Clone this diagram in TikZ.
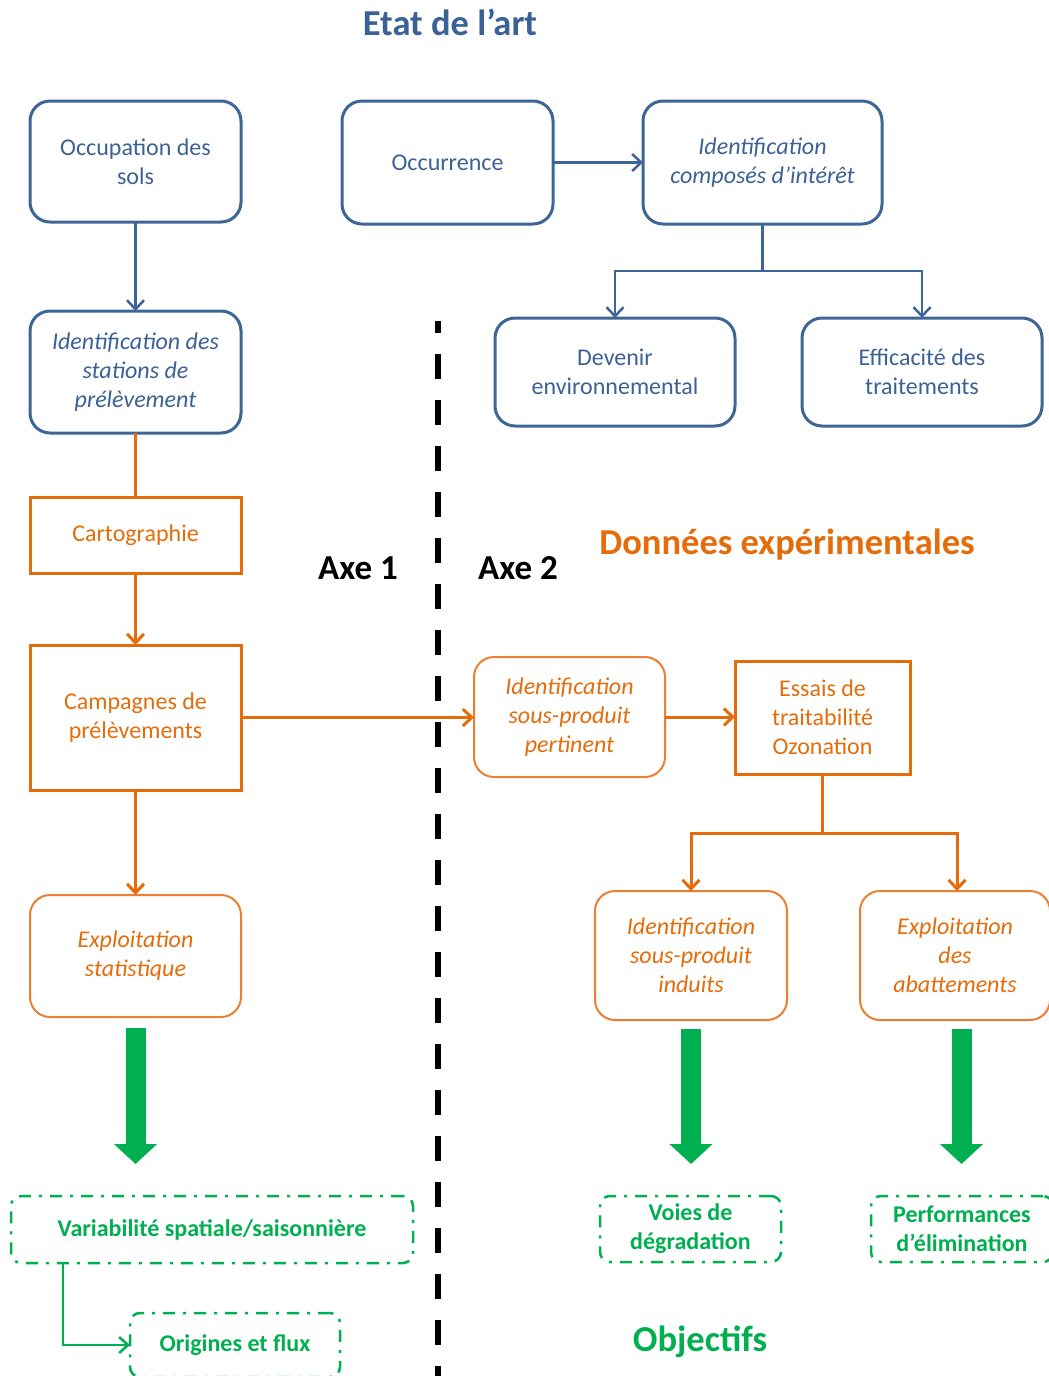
\documentclass[tikz,border=0pt]{standalone}
\usepackage{fontspec}
\setmainfont{Carlito}
\usetikzlibrary{arrows.meta}
\definecolor{bstroke}{HTML}{3D6596}
\definecolor{btext}{HTML}{3B6195}
\definecolor{ttext}{HTML}{3A6296}
\definecolor{ostroke}{HTML}{E46C0A}
\definecolor{olight}{HTML}{EE7F32}
\definecolor{gr}{HTML}{00B050}
\begin{document}
\begin{tikzpicture}[x=1pt,y=-1pt,
  base/.style={inner sep=0pt, outer sep=0pt, align=center, font=\fontsize{24}{29}\selectfont},
  bluebox/.style={base, draw=bstroke, line width=3pt, rounded corners=20pt, text=btext},
  blueit/.style={bluebox, font=\fontsize{24}{29}\selectfont\itshape},
  orect/.style={base, draw=ostroke, line width=3pt, text=ostroke},
  oround/.style={base, draw=olight, line width=2pt, rounded corners=20pt, text=ostroke, font=\fontsize{24}{29}\selectfont\itshape},
  gbox/.style={base, draw=gr, line width=2.5pt, rounded corners=10pt, dash pattern=on 12pt off 8pt on 3pt off 8pt, text=gr, font=\fontsize{24}{29}\selectfont\bfseries},
  heading/.style={inner sep=0pt, font=\fontsize{36.5}{42}\selectfont\bfseries},
  axehead/.style={inner sep=0pt, font=\fontsize{35}{42}\selectfont\bfseries},
  barrow/.style={draw=bstroke, line width=2.5pt, -{Straight Barb[length=9pt,width=17pt]}},
  oline/.style={draw=ostroke, line width=3pt},
  oarrow/.style={oline, -{Straight Barb[length=9pt,width=17pt]}},
  garrow/.style={draw=gr, line width=2.5pt, -{Straight Barb[length=9pt,width=16pt]}},
  bigarrow/.style={draw=gr, line width=20pt, -{Triangle[width=42pt,length=20pt]}}
]
\useasboundingbox (0,0) rectangle (1049,1376);

% headings
\node[heading, text=ttext] (title) at (450,22) {Etat de l’art};
\node[axehead, text=black] (axe1) at (358,568) {Axe 1};
\node[axehead, text=black] (axe2) at (518,568) {Axe 2};
\node[heading, text=ostroke] (donn) at (787,545) {Données expérimentales};
\node[heading, text=gr] (obj) at (700,1342) {Objectifs};

% separator
\draw[line width=5.5pt, dash pattern=on 25pt off 21pt, dash phase=13pt] (438,321) -- (438,1380);

% blue boxes
\node[bluebox, minimum width=211pt, minimum height=121pt] (occ) at (135.5,161.5) {Occupation des\\sols};
\node[bluebox, minimum width=211pt, minimum height=123pt] (occu) at (447.5,162.5) {Occurrence};
\node[blueit, minimum width=239pt, minimum height=123pt] (idc) at (762.5,162.5) {Identification\\composés d’intérêt};
\node[bluebox, minimum width=240pt, minimum height=108pt] (dev) at (615,372) {Devenir\\environnemental};
\node[bluebox, minimum width=240pt, minimum height=108pt] (eff) at (922,372) {Efficacité des\\traitements};
\node[blueit, minimum width=211pt, minimum height=122pt] (ids) at (135.5,372) {Identification des\\stations de\\prélèvement};

% orange boxes
\node[orect, minimum width=211pt, minimum height=76pt] (cart) at (135.5,535) {Cartographie};
\node[orect, minimum width=211pt, minimum height=145pt] (camp) at (135.5,717.5) {Campagnes de\\prélèvements};
\node[oround, minimum width=191pt, minimum height=120pt] (isp) at (569.5,717) {Identification\\sous-produit\\pertinent};
\node[orect, minimum width=175pt, minimum height=113pt] (ess) at (822.5,717.5) {Essais de\\traitabilité\\Ozonation};
\node[oround, minimum width=192pt, minimum height=129pt] (isi) at (691,955.5) {Identification\\sous-produit\\induits};
\node[oround, minimum width=190pt, minimum height=129pt] (eab) at (955,955.5) {Exploitation\\des\\abattements};
\node[oround, minimum width=211pt, minimum height=122pt] (exs) at (135.5,956) {Exploitation\\statistique};

% green boxes
\node[gbox, minimum width=402pt, minimum height=67pt] (var) at (212,1229.5) {Variabilité spatiale/saisonnière};
\node[gbox, minimum width=210pt, minimum height=64pt] (ori) at (235,1345) {Origines et flux};
\node[gbox, minimum width=181pt, minimum height=66pt] (voi) at (690.5,1229) {Voies de\\dégradation};
\node[gbox, minimum width=182pt, minimum height=66pt] (perf) at (962,1229) {Performances\\d’élimination};

% blue connectors
\draw[barrow] (occu) -- (idc);
\draw[barrow] (occ.south) -- (ids.north);
\draw[barrow] (idc.south) -- ++(0,47) -| (dev.north);
\draw[barrow] (idc.south) -- ++(0,47) -| (eff.north);

% orange connectors
\draw[oline] (ids.south) -- (cart.north);
\draw[oarrow] (cart.south) -- (camp.north);
\draw[oarrow] (camp.east) -- (camp.east -| isp.west);
\draw[oarrow] (isp.east) -- (isp.east -| ess.west);
\draw[oarrow] (ess.south) -- ++(0,59) -| (isi.north);
\draw[oarrow] (ess.south) -- ++(0,59) -| ([xshift=2pt]eab.north);
\draw[oarrow] (camp.south) -- (exs.north);

% big green arrows
\draw[bigarrow] ([yshift=-11pt]exs.south) -- ++(0,136);
\draw[bigarrow] ([yshift=-9pt]isi.south) -- ++(0,135);
\draw[bigarrow] ([yshift=-9pt,xshift=6.5pt]eab.south) -- ++(0,135);

% green connector
\draw[garrow] ([xshift=-149pt]var.south) |- (ori.west);
\end{tikzpicture}
\end{document}
